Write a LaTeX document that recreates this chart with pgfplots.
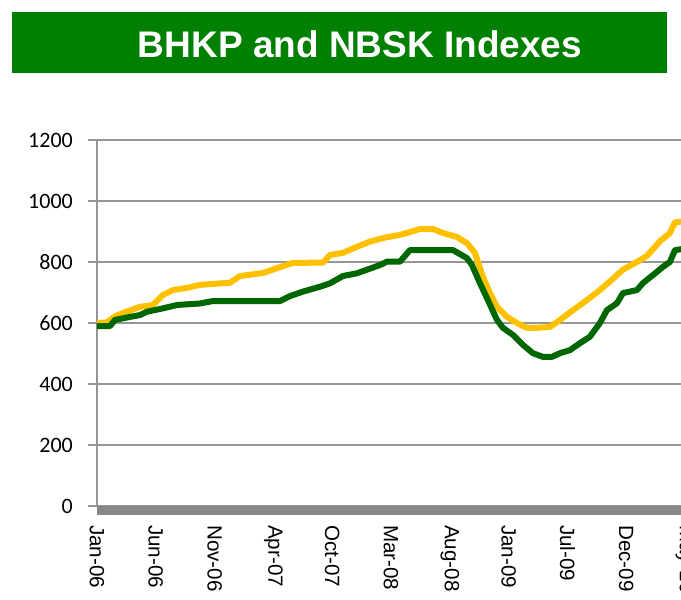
\documentclass[border=0pt]{standalone}
\usepackage{fontspec}
\setmainfont{Liberation Sans}
\newfontfamily\carlito{Carlito}
\usepackage{pgfplots}
\pgfplotsset{compat=1.18}
\definecolor{banner}{RGB}{0,128,0}
\definecolor{gridc}{RGB}{150,150,150}
\definecolor{barc}{RGB}{135,135,135}
\definecolor{lgreen}{RGB}{0,102,0}
\definecolor{lyellow}{RGB}{255,192,0}
\begin{document}
\begin{tikzpicture}
\fill[banner] (12pt,527pt) rectangle (667pt,588pt);
\node[text=white, font=\fontsize{37}{40}\selectfont\bfseries, inner sep=0pt] at (360pt,556pt) {BHKP and NBSK Indexes};
\begin{axis}[
  scale only axis, width=590.3pt, height=366pt,
  at={(97pt,94pt)}, anchor=south west,
  xmin=0, xmax=52.2, ymin=0, ymax=1200,
  axis lines*=left,
  x axis line style={draw=none},
  y axis line style={draw=gridc, line width=1.5pt},
  ytick={0,200,400,600,800,1000,1200},
  xtick={0,5.2,10.4,15.6,20.8,26,31.2,36.4,41.6,46.8,52},
  xticklabels={Jan-06,Jun-06,Nov-06,Apr-07,Oct-07,Mar-08,Aug-08,Jan-09,Jul-09,Dec-09,May-10},
  ymajorgrids, grid style={draw=gridc, line width=1.5pt},
  tick align=outside,
  ytick style={draw=gridc, line width=1.5pt},
  major tick length=9pt,
  xtick style={draw=none},
  /pgf/number format/assume math mode=true,
  /pgf/number format/1000 sep={},
  yticklabel style={font=\carlito\fontsize{22}{24}\selectfont, anchor=east, inner sep=0pt, xshift=-15pt},
  xticklabel style={font=\fontsize{20.6}{22}\selectfont, rotate=-90, anchor=west, inner sep=0pt, xshift=10pt},
  clip=false,
]
\fill[barc] (rel axis cs:0,0) rectangle ([yshift=-9pt]rel axis cs:1,0);
\addplot[lyellow, line width=6pt, line join=round] coordinates {
(0,600) (0.88,602) (1.59,622) (2.30,633) (3.80,653) (4.95,659) (5.84,692) (6.72,708)
(7.96,715) (9.11,725) (11.76,732) (12.64,754) (14.68,764) (15.92,780) (17.33,797)
(19.98,798) (20.60,823) (21.75,830) (22.99,850) (24.14,867) (25.46,880) (26.79,889)
(27.67,898) (28.56,908) (29.71,908) (30.59,895) (31.83,882) (32.71,862) (33.42,830)
(34.13,751) (34.75,698) (35.37,653) (36.25,620) (37.14,600) (38.02,584) (38.90,584)
(40.05,587) (40.94,610) (42.09,642) (43.32,675) (44.47,708) (45.62,745) (46.51,775)
(47.75,800) (48.63,820) (49.78,868) (50.66,895) (51.11,930) (52.2,935)
};
\addplot[lgreen, line width=6pt, line join=round] coordinates {
(0,590) (1.15,590) (1.59,610) (2.92,620) (3.80,626) (4.42,637) (5.84,648) (7.07,659)
(9.11,664) (10.26,672) (16.18,672) (17.06,688) (18.21,703) (19.72,719) (20.60,730)
(21.75,754) (22.99,763) (25.02,790) (25.64,801) (26.79,801) (27.67,839) (31.48,839)
(32.71,813) (33.16,790) (33.86,731) (34.57,675) (35.37,610) (35.90,584) (36.78,561)
(37.67,528) (38.55,501) (39.43,489) (40.23,489) (40.94,501) (41.82,511) (42.71,534)
(43.59,555) (44.47,600) (45.09,642) (45.98,665) (46.51,698) (47.75,708) (48.28,731)
(49.16,757) (50.04,784) (50.66,800) (51.11,839) (52.2,845)
};
\end{axis}
\pgfresetboundingbox
\useasboundingbox (0pt,0pt) rectangle (681pt,600pt);
\end{tikzpicture}
\end{document}
